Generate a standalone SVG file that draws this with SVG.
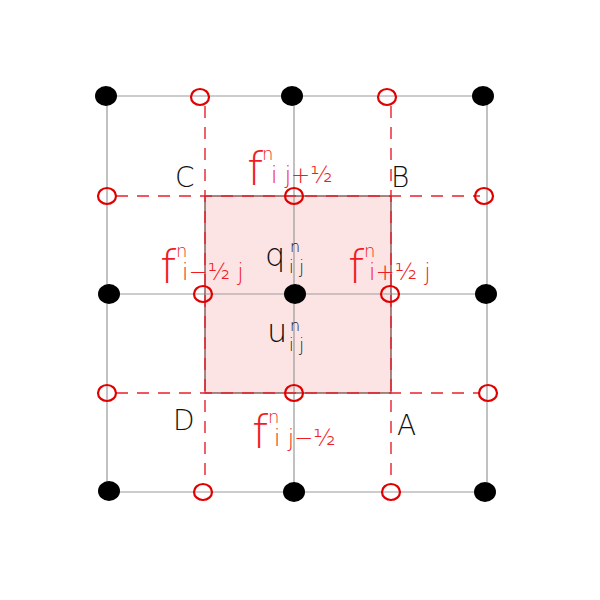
<svg xmlns="http://www.w3.org/2000/svg" width="600" height="600" viewBox="0 0 600 600">
<style>
.grid{stroke:#999;stroke-width:1.2;fill:none}
.dash{stroke:#e8202a;stroke-width:1.4;stroke-dasharray:12 9;fill:none}
.dot{fill:#000}
.ring{fill:none;stroke:#e00000;stroke-width:2.2}
.lbl{font-family:"DejaVu Sans",sans-serif;font-weight:200}
.red{fill:#f01c24}
.blk{fill:#111}
</style>
<rect x="0" y="0" width="600" height="600" fill="#fff"/>
<g id="connectors">
<path class="grid" d="M107 96H487M108 294H487M109 492H486M107 96V492M294 96V492M487 96V492"/>
<rect id="cell" x="205" y="196" width="186" height="197" fill="#fde4e4" stroke="#6b3b3b" stroke-width="1.2"/>
<path class="grid" d="M205 294H391M294 196V393"/>
<path class="dash" d="M205 106V484M391 106V484M116 196H480M116 393H480"/>
</g>
<g id="dots">
<ellipse id="n00" class="dot" cx="106" cy="96" rx="11" ry="10"/>
<ellipse id="n10" class="dot" cx="292" cy="96" rx="11" ry="10"/>
<ellipse id="n20" class="dot" cx="483" cy="96" rx="11" ry="10"/>
<ellipse id="n01" class="dot" cx="109" cy="294" rx="11" ry="10"/>
<ellipse id="n11" class="dot" cx="295" cy="294" rx="11" ry="10"/>
<ellipse id="n21" class="dot" cx="486" cy="294" rx="11" ry="10"/>
<ellipse id="n02" class="dot" cx="109" cy="491" rx="11" ry="10"/>
<ellipse id="n12" class="dot" cx="294" cy="492" rx="11" ry="10"/>
<ellipse id="n22" class="dot" cx="485" cy="492" rx="11" ry="10"/>
</g>
<g id="rings">
<ellipse class="ring" cx="200" cy="97" rx="9" ry="8"/>
<ellipse class="ring" cx="387" cy="97" rx="9" ry="8"/>
<ellipse class="ring" cx="107" cy="196" rx="9" ry="8"/>
<ellipse class="ring" cx="294" cy="196" rx="9" ry="8"/>
<ellipse class="ring" cx="484" cy="196" rx="9" ry="8"/>
<ellipse class="ring" cx="203" cy="294" rx="9" ry="8"/>
<ellipse class="ring" cx="390" cy="294" rx="9" ry="8"/>
<ellipse class="ring" cx="107" cy="393" rx="9" ry="8"/>
<ellipse class="ring" cx="294" cy="393" rx="9" ry="8"/>
<ellipse class="ring" cx="488" cy="393" rx="9" ry="8"/>
<ellipse class="ring" cx="203" cy="492" rx="9" ry="8"/>
<ellipse class="ring" cx="391" cy="492" rx="9" ry="8"/>
</g>
<g id="corner-labels" class="lbl blk" font-size="28">
<text x="175" y="187">C</text>
<text x="391" y="187">B</text>
<text x="173" y="430">D</text>
<text x="397" y="435">A</text>
</g>
<g id="flux-top" class="lbl red">
<text x="247" y="185" font-size="46">f</text>
<text x="262" y="160" font-size="18">n</text>
<text x="271" y="183" font-size="23">i j+½</text>
</g>
<g id="flux-left" class="lbl red">
<text x="160" y="283" font-size="46">f</text>
<text x="176" y="257" font-size="18">n</text>
<text x="182" y="280" font-size="23">i−½ j</text>
</g>
<g id="flux-right" class="lbl red">
<text x="348" y="283" font-size="46">f</text>
<text x="364" y="257" font-size="18">n</text>
<text x="369" y="280" font-size="23">i+½ j</text>
</g>
<g id="flux-bottom" class="lbl red">
<text x="252" y="448" font-size="46">f</text>
<text x="268" y="423" font-size="18">n</text>
<text x="274" y="446" font-size="23">i j−½</text>
</g>
<g id="q" class="lbl blk">
<text x="265" y="266" font-size="32">q</text>
<text x="290" y="252" font-size="16">n</text>
<text x="289" y="273" font-size="17">i j</text>
</g>
<g id="u" class="lbl blk">
<text x="267" y="342" font-size="32">u</text>
<text x="290" y="331" font-size="16">n</text>
<text x="289" y="351" font-size="17">i j</text>
</g>
</svg>
